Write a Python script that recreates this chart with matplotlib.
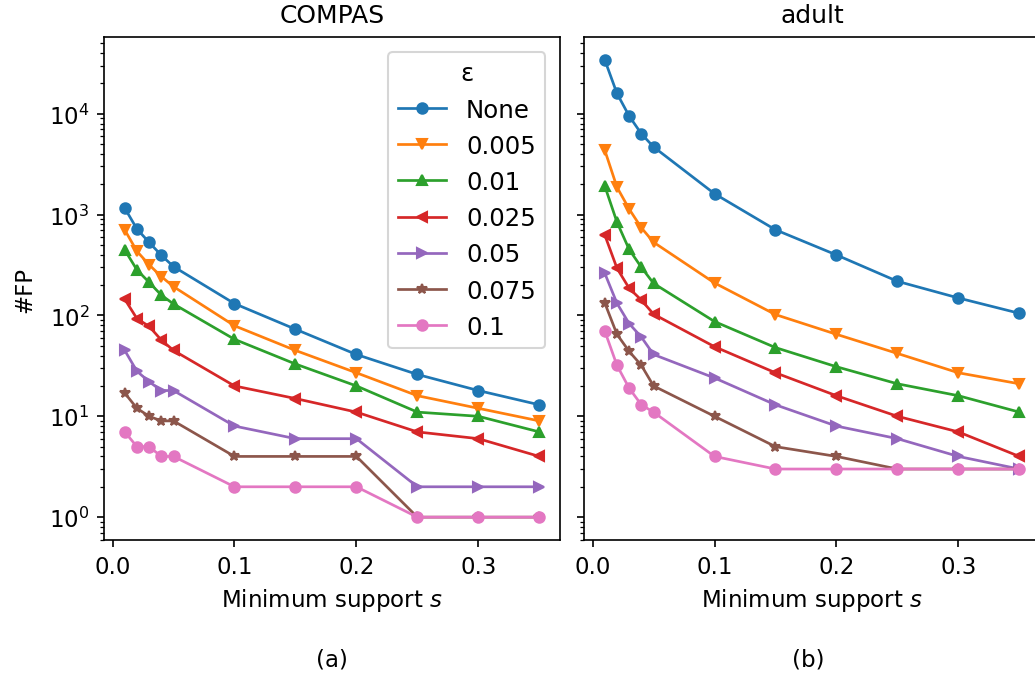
import numpy as np
import matplotlib.pyplot as plt

support = [0.01, 0.02, 0.03, 0.04, 0.05, 0.1, 0.15, 0.2, 0.25, 0.3, 0.35]
eps_labels = ['None', '0.005', '0.01', '0.025', '0.05', '0.075', '0.1']
markers = ['o', 'v', '^', '<', '>', '*', 'o']

# number of false positives per epsilon, COMPAS
fp_compas = [
    [1160, 720, 530, 395, 305, 131, 73, 41, 26, 18, 13],
    [705, 433, 318, 243, 193, 79, 45, 27, 16, 12, 9],
    [446, 283, 213, 159, 130, 58, 33, 20, 11, 10, 7],
    [145, 93, 78, 57, 45, 20, 15, 11, 7, 6, 4],
    [45, 28, 22, 18, 18, 8, 6, 6, 2, 2, 2],
    [17, 12, 10, 9, 9, 4, 4, 4, 1, 1, 1],
    [7, 5, 5, 4, 4, 2, 2, 2, 1, 1, 1],
]

# number of false positives per epsilon, adult
fp_adult = [
    [34200, 15900, 9490, 6330, 4690, 1610, 707, 398, 218, 149, 105],
    [4350, 1870, 1135, 740, 532, 210, 102, 65, 42, 27, 21],
    [1920, 842, 451, 300, 208, 87, 48, 31, 21, 16, 11],
    [628, 294, 186, 142, 103, 49, 27, 16, 10, 7, 4],
    [262, 132, 83, 61, 41, 24, 13, 8, 6, 4, 3],
    [133, 65, 44, 32, 20, 10, 5, 4, 3, 3, 3],
    [70, 32, 19, 13, 11, 4, 3, 3, 3, 3, 3],
]

plt.rcParams['font.size'] = 11
plt.rcParams['lines.markersize'] = 5
plt.rcParams['lines.linewidth'] = 1.3

fig = plt.figure(figsize=(6.9, 4.5333), dpi=150)
ax1 = fig.add_axes([0.1005, 0.2044, 0.4406, 0.7397])
ax2 = fig.add_axes([0.5643, 0.2044, 0.4406, 0.7397], sharey=ax1)

for i in range(len(eps_labels)):
    ax1.plot(support, fp_compas[i], marker=markers[i], label=eps_labels[i])
    ax2.plot(support, fp_adult[i], marker=markers[i], label=eps_labels[i])

ax1.set_yscale('log')
ax1.set_ylabel('#FP', labelpad=6)
ax1.set_title('COMPAS', pad=7, fontsize=12)
ax2.set_title('adult', pad=7, fontsize=12)
for ax in (ax1, ax2):
    ax.set_xlabel('Minimum support $s$')
    ax.set_xticks([0.0, 0.1, 0.2, 0.3])
plt.setp(ax2.get_yticklabels(), visible=False)

ax1.legend(title='ε', loc='upper right', borderaxespad=0.6,
           fontsize=11.7, title_fontsize=11.7)

fig.text(0.3208, 0.029, '(a)', ha='center', va='center')
fig.text(0.7811, 0.029, '(b)', ha='center', va='center')

plt.savefig('out.png', dpi=150)
